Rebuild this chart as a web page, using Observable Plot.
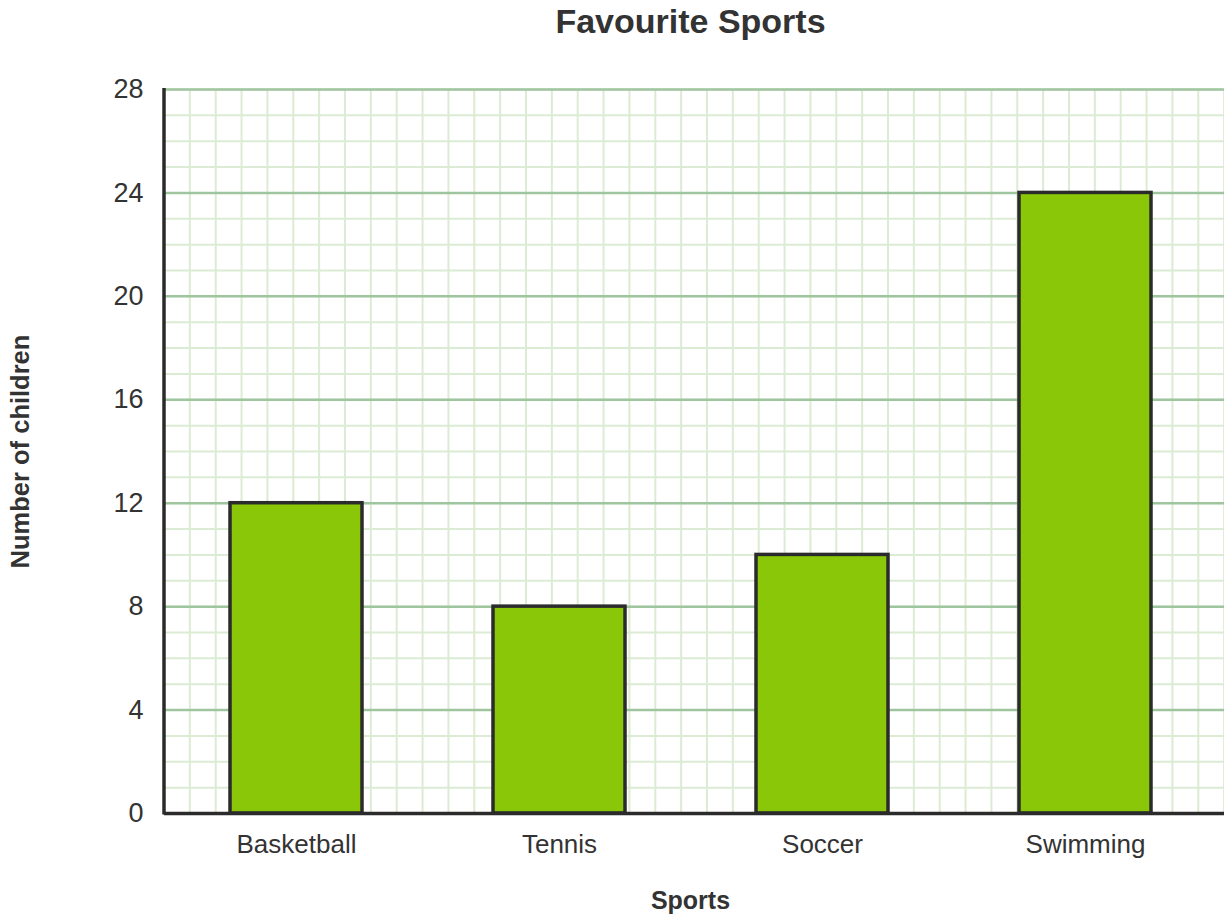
<!DOCTYPE html>
<html>
<head>
<meta charset="utf-8">
<script src="https://cdn.jsdelivr.net/npm/d3@7"></script>
<script src="https://cdn.jsdelivr.net/npm/@observablehq/plot@0.6"></script>
<style>
  html, body { margin: 0; padding: 0; background: #ffffff; }
  #chart svg { display: block; }
</style>
</head>
<body>
<div id="chart"></div>
<script>
// ---- data ----
const sports = ["Basketball", "Tennis", "Soccer", "Swimming"];
const children = [12, 8, 10, 24];
const yMajorTicks = [0, 4, 8, 12, 16, 20, 24, 28];
const yMinorTicks = [0, 1, 2, 3, 4, 5, 6, 7, 8, 9, 10, 11, 12, 13, 14, 15, 16, 17, 18, 19, 20, 21, 22, 23, 24, 25, 26, 27, 28];
const yMax = 28;
const titleText = "Favourite Sports";
const xLabelText = "Sports";
const yLabelText = "Number of children";

const rows = sports.map((s, i) => ({ sport: s, count: children[i] }));

const W = 1224, H = 922;
const mLeft = 164, mTop = 89, mBottom = 109;

const minorColor = "#dcebd3";
const majorColor = "#9fc59f";
const axisColor = "#2b2b2b";
const textColor = "#333333";

// vertical minor grid: square cells, one y-unit wide
function verticalGrid(index, scales, values, dimensions) {
  const unit = scales.y(0) - scales.y(1);
  const top = scales.y(yMax), bottom = scales.y(0);
  const g = d3.create("svg:g").attr("stroke", minorColor).attr("stroke-width", 2);
  for (let x = dimensions.marginLeft + unit; x <= dimensions.width + 0.5; x += unit) {
    g.append("line").attr("x1", x).attr("x2", x).attr("y1", top).attr("y2", bottom);
  }
  return g.node();
}

// left axis line
function leftAxisLine(index, scales, values, dimensions) {
  const top = scales.y(yMax), bottom = scales.y(0);
  const x = dimensions.marginLeft;
  return d3.create("svg:line")
    .attr("x1", x).attr("x2", x)
    .attr("y1", top - 1).attr("y2", bottom + 1.5)
    .attr("stroke", axisColor).attr("stroke-width", 3.5)
    .node();
}

const chart = Plot.plot({
  width: W,
  height: H,
  marginTop: mTop,
  marginBottom: mBottom,
  marginLeft: mLeft,
  marginRight: 0,
  style: { fontFamily: "'Liberation Sans', Arial, Helvetica, sans-serif", color: textColor, background: "#ffffff" },
  x: { domain: sports, range: [mLeft, 1216], paddingInner: 0.5, paddingOuter: 0.25, label: null },
  y: { domain: [0, yMax], label: null },
  marks: [
    Plot.ruleY(yMinorTicks, { stroke: minorColor, strokeWidth: 2 }),
    Plot.frame({ stroke: "none", render: verticalGrid }),
    Plot.ruleY(yMajorTicks, { stroke: majorColor, strokeWidth: 2.5 }),
    Plot.barY(rows, { x: "sport", y: "count", fill: "#8ac708", stroke: axisColor, strokeWidth: 3.5 }),
    Plot.axisY(yMajorTicks, { tickSize: 0, tickPadding: 21, fontSize: 27, label: null, fill: textColor }),
    Plot.axisX({ tickSize: 0, tickPadding: 21, fontSize: 26, label: null, fill: textColor }),
    Plot.ruleY([0], { stroke: axisColor, strokeWidth: 3.5 }),
    Plot.frame({ stroke: "none", render: leftAxisLine }),
    Plot.text([titleText], { frameAnchor: "top", dx: -4, dy: -67, lineAnchor: "middle", fontSize: 34, fontWeight: "bold", fill: textColor }),
    Plot.text([xLabelText], { frameAnchor: "bottom", dx: -4, dy: 87, lineAnchor: "middle", fontSize: 25, fontWeight: "bold", fill: textColor }),
    Plot.text([yLabelText], { frameAnchor: "left", dx: -144, lineAnchor: "middle", textAnchor: "middle", rotate: -90, fontSize: 25.5, fontWeight: "bold", fill: textColor })
  ]
});

document.getElementById("chart").appendChild(chart);
</script>
</body>
</html>
